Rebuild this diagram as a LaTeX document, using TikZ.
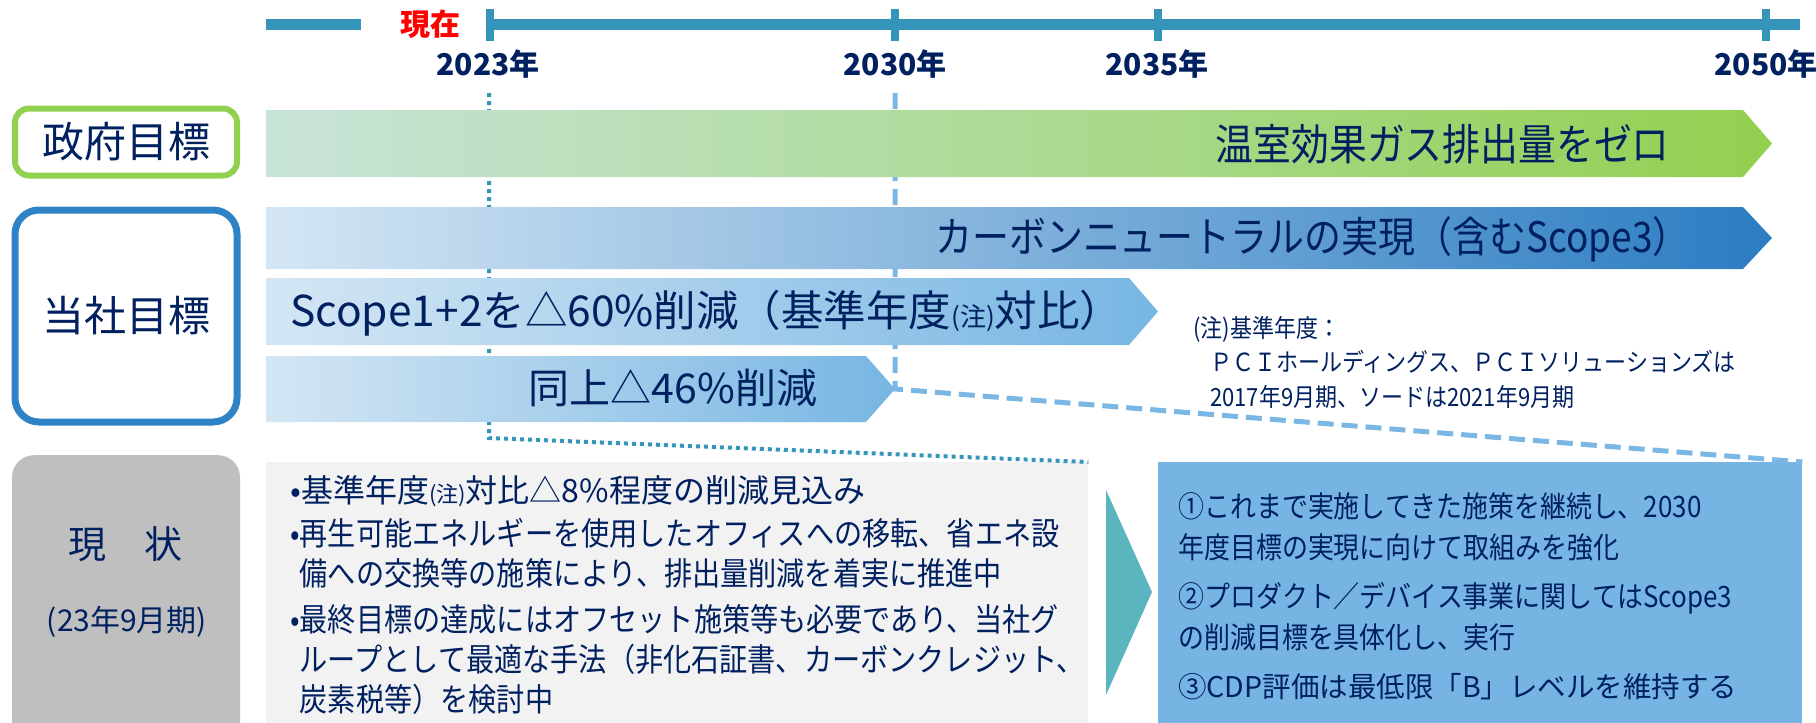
\documentclass[tikz,border=0pt]{standalone}
\usepackage{fontspec}
\setmainfont{Noto Sans CJK JP}
\newfontfamily\jpfont{Noto Sans CJK JP}
\newfontfamily\jpnarrow[FakeStretch=0.88]{Noto Sans CJK JP}
\newcommand{\jpsize}[2]{\fontsize{#1}{#2}\selectfont}
\usetikzlibrary{positioning}

\definecolor{navy}{HTML}{002060}
\definecolor{tlblue}{HTML}{3594BA}
\definecolor{govgreen}{HTML}{92D050}
\definecolor{mint}{HTML}{C8E4D9}
\definecolor{corpblue}{HTML}{2E83C7}
\definecolor{paleblue}{HTML}{D4E6F4}
\definecolor{deepblue}{HTML}{2B7CC2}
\definecolor{midblue}{HTML}{77B6E3}
\definecolor{boxgray}{HTML}{BFBFBF}
\definecolor{textgray}{HTML}{F2F2F2}
\definecolor{rboxblue}{HTML}{76B4E3}
\definecolor{arrowteal}{HTML}{5AB5BE}
\definecolor{dotblue}{HTML}{3596B8}
\definecolor{dashblue}{HTML}{7AB7E4}

\begin{document}
\begin{tikzpicture}[x=1pt,y=-1pt,
	yearlbl/.style={font=\jpfont\bfseries\jpsize{30}{32},text=navy,inner sep=0pt},
	catbox/.style={rounded corners=14pt,line width=6pt,minimum width=222pt,fill=white,
		font=\jpfont\jpsize{42}{44},text=navy,inner sep=0pt},
	bandtxt/.style={text=navy,inner sep=0pt},
	dotline/.style={dotblue,line width=4pt,dash pattern=on 4pt off 4pt},
	dashline/.style={dashblue,line width=5pt,dash pattern=on 16pt off 8pt}]
	\useasboundingbox (0,0) rectangle (1816,723);
	% timeline
	\draw[tlblue,line width=11pt] (266,24) -- (361,24);
	\draw[tlblue,line width=11pt] (486,24) -- (1800,24);
	\foreach \x in {490,895,1158,1766}
		\draw[tlblue,line width=8pt] (\x,9) -- (\x,41);
	\node[font=\jpfont\bfseries\jpsize{30}{32},text=red,inner sep=0pt] (now) at (430,24) {現在};
	\foreach \x/\yr in {488/2023,895/2030,1157/2035,1766/2050}
		\node[yearlbl] (y\yr) at (\x,64) {\yr 年};
	% left labels
	\node[catbox,draw=govgreen,minimum height=67pt] (gov) at (126,142) {政府目標};
	\node[catbox,draw=corpblue,line width=7pt,rounded corners=24pt,minimum height=212pt] (corp) at (126,316) {当社目標};
	\node[fill=boxgray,rounded corners=22pt,minimum width=228pt,minimum height=300pt,anchor=north] (stat) at (126,455) {};
	\node[font=\jpfont\jpsize{38}{40},text=navy,inner sep=0pt] (statlbl) at (125,544) {現　状};
	\node[font=\jpfont\jpsize{30}{32},text=navy,inner sep=0pt] (statsub) at (127,622) {(23年9月期)};
	% bottom boxes
	\node[fill=textgray,minimum width=822pt,minimum height=290pt,anchor=north west,inner sep=0pt] (sitbox) at (266,462) {};
	\node[fill=rboxblue,minimum width=644pt,minimum height=290pt,anchor=north west,inner sep=0pt] (actbox) at (1158,462) {};
	\fill[arrowteal] (1106,490) -- (1152,592) -- (1106,695) -- cycle;
	% year guides
	\coordinate (c23) at (489,438);
	\coordinate (c30) at (895,389);
	\draw[dotline] (489,93) -- (c23) -- (sitbox.north east);
	\draw[dashline] (895,93) -- (c30) -- (actbox.north east);
	% target bands
	\shade[left color=mint,right color=govgreen] (266,110) -- (1743,110) -- (1772,143.5) -- (1743,177) -- (266,177) -- cycle;
	\shade[left color=paleblue,right color=deepblue] (266,207) -- (1743,207) -- (1772,238) -- (1743,269) -- (266,269) -- cycle;
	\shade[left color=paleblue,right color=midblue] (266,278) -- (1129,278) -- (1158,311.5) -- (1129,345) -- (266,345) -- cycle;
	\shade[left color=paleblue,right color=midblue] (266,356) -- (866,356) -- (895,389) -- (866,422) -- (266,422) -- cycle;
	\node[bandtxt,font=\jpnarrow\jpsize{43}{45},anchor=east] (ghg) at (1670,144) {温室効果ガス排出量をゼロ};
	\node[bandtxt,font=\jpnarrow\jpsize{42}{44},anchor=east] (cn) at (1690,239) {カーボンニュートラルの実現（含むScope3）};
	\node[bandtxt,font=\jpfont\jpsize{42.5}{44},anchor=west] (s12) at (290,313) {Scope1+2を△60\%削減（基準年度{\jpsize{26}{26}(注)}対比）};
	\node[bandtxt,font=\jpfont\jpsize{41}{44}] (s46) at (673,388) {同上△46\%削減};
	% note
	\node[font=\jpnarrow\jpsize{25}{34.5},text=navy,align=left,anchor=north west,inner sep=0pt] (note) at (1193,316)
		{(注)基準年度：\\\hspace*{17pt}ＰＣＩホールディングス、ＰＣＩソリューションズは\\\hspace*{17pt}2017年9月期、ソードは2021年9月期};
	% situation text
	\node[font=\jpnarrow\jpsize{32}{40},text=navy,align=left,anchor=north west,inner sep=0pt] (sittxt) at (290,475)
		{{\jpfont •基準年度{\jpsize{22}{22}(注)}対比△8\%程度の削減見込み}\\[3pt]
		•再生可能エネルギーを使用したオフィスへの移転、省エネ設\\
		\hphantom{•}備への交換等の施策により、排出量削減を着実に推進中\\[6pt]
		•最終目標の達成にはオフセット施策等も必要であり、当社グ\\
		\hphantom{•}ループとして最適な手法（非化石証書、カーボンクレジット、\\
		\hphantom{•}炭素税等）を検討中};
	% action text
	\node[font=\jpnarrow\jpsize{29.5}{41},text=navy,align=left,anchor=north west,inner sep=0pt] (acttxt) at (1178,492)
		{①これまで実施してきた施策を継続し、2030\\
		年度目標の実現に向けて取組みを強化\\[8pt]
		②プロダクト／デバイス事業に関してはScope3\\
		の削減目標を具体化し、実行\\[8pt]
		{\jpfont\jpsize{28.5}{41}③CDP評価は最低限「B」レベルを維持する}};
\end{tikzpicture}
\end{document}
